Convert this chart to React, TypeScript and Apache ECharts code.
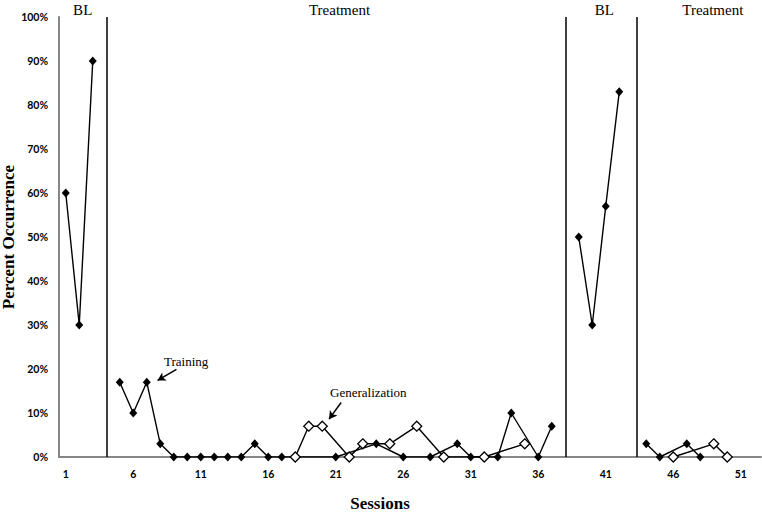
import React, { useEffect, useRef } from "react";
import * as echarts from "echarts";

// Baseline 1
const bl1Sessions = [1, 2, 3];
const bl1Values = [60, 30, 90];
// Treatment 1 - training
const tr1Sessions = [5, 6, 7, 8, 9, 10, 11, 12, 13, 14, 15, 16, 17, 21, 24, 26, 28, 30, 31, 33, 34, 36, 37];
const tr1Values = [17, 10, 17, 3, 0, 0, 0, 0, 0, 0, 3, 0, 0, 0, 3, 0, 0, 3, 0, 0, 10, 0, 7];
// Treatment 1 - generalization
const gen1Sessions = [18, 19, 20, 22, 23, 25, 27, 29, 32, 35];
const gen1Values = [0, 7, 7, 0, 3, 3, 7, 0, 0, 3];
// Baseline 2
const bl2Sessions = [39, 40, 41, 42];
const bl2Values = [50, 30, 57, 83];
// Treatment 2 - training
const tr2Sessions = [44, 45, 47, 48];
const tr2Values = [3, 0, 3, 0];
// Treatment 2 - generalization
const gen2Sessions = [46, 49, 50];
const gen2Values = [0, 3, 0];

const xTickLabels = [1, 6, 11, 16, 21, 26, 31, 36, 41, 46, 51];
const phaseChanges = [4, 38, 43.3];
const phaseLabels = ["BL", "Treatment", "BL", "Treatment"];

const zip = (xs: number[], ys: number[]) => xs.map((x, i) => [x, ys[i]]);

const serif = "'Liberation Serif', 'Times New Roman', serif";
const sans = "Lato, 'Open Sans', sans-serif";

export default function App() {
  const ref = useRef<HTMLDivElement>(null);
  useEffect(() => {
    if (!ref.current) return;
    const chart = echarts.init(ref.current, undefined, { renderer: "svg" });

    const trainingStyle = {
      type: "line" as const,
      symbol: "diamond",
      symbolSize: [8, 9],
      itemStyle: { color: "#000" },
      lineStyle: { color: "#000", width: 1.4 },
      z: 4,
    };
    const genStyle = {
      type: "line" as const,
      symbol: "diamond",
      symbolSize: 10,
      itemStyle: { color: "#fff", borderColor: "#000", borderWidth: 1.3 },
      lineStyle: { color: "#000", width: 1.4 },
      z: 5,
    };

    const labelXs = [82.7, 339.5, 604.3, 712.8];

    chart.setOption({
      animation: false,
      grid: { left: 59, right: 1, top: 17, bottom: 57, containLabel: false, outerBoundsMode: "none" },
      xAxis: {
        type: "value",
        min: 0.5,
        max: 52.5,
        name: "Sessions",
        nameLocation: "middle",
        nameGap: 38,
        nameMoveOverlap: false,
        nameTextStyle: { fontFamily: serif, fontWeight: "bold", fontSize: 17, color: "#000", padding: [0, 0, 0, -60] },
        axisLine: { show: true, lineStyle: { color: "#868686", width: 2 } },
        axisTick: { show: false },
        splitLine: { show: false },
        axisLabel: {
          customValues: xTickLabels,
          fontFamily: sans,
          fontWeight: "bold",
          fontSize: 10.5,
          color: "#000",
          margin: 11,
        },
      },
      yAxis: {
        type: "value",
        min: 0,
        max: 100,
        interval: 10,
        name: "Percent Occurrence",
        nameLocation: "middle",
        nameGap: 42,
        nameMoveOverlap: false,
        nameTextStyle: { fontFamily: serif, fontWeight: "bold", fontSize: 17, color: "#000" },
        axisLine: { show: true, lineStyle: { color: "#868686", width: 2 } },
        axisTick: { show: false },
        splitLine: { show: false },
        axisLabel: {
          formatter: "{value}%",
          fontFamily: sans,
          fontWeight: "bold",
          fontSize: 10.5,
          color: "#000",
          margin: 11,
        },
      },
      graphic: [
        ...phaseLabels.map((t, i) => ({
          type: "text",
          x: labelXs[i],
          y: 10,
          style: {
            text: t,
            font: `15px ${serif}`,
            fill: "#000",
            textAlign: "center",
            textVerticalAlign: "middle",
          },
        })),
        {
          type: "text",
          x: 164,
          y: 361,
          style: { text: "Training", font: `13px ${serif}`, fill: "#000", textAlign: "left", textVerticalAlign: "middle" },
        },
        {
          type: "text",
          x: 330,
          y: 392,
          style: { text: "Generalization", font: `13px ${serif}`, fill: "#000", textAlign: "left", textVerticalAlign: "middle" },
        },
      ],
      series: [
        {
          ...trainingStyle,
          name: "BL1",
          data: zip(bl1Sessions, bl1Values),
          markLine: {
            silent: true,
            symbol: "none",
            label: { show: false },
            lineStyle: { color: "#000", width: 1.5, type: "solid" },
            data: [
              ...phaseChanges.map((x) => ({ xAxis: x })),
              [
                { coord: [9.2, 19.9], symbol: "none" },
                { coord: [7.8, 17.4], symbol: "arrow", symbolSize: [7, 8] },
              ],
              [
                { coord: [21.4, 12.4], symbol: "none" },
                { coord: [20.5, 8.6], symbol: "arrow", symbolSize: [7, 8] },
              ],
            ],
          },
        },
        { ...trainingStyle, name: "Training1", data: zip(tr1Sessions, tr1Values) },
        { ...genStyle, name: "Generalization1", data: zip(gen1Sessions, gen1Values) },
        { ...trainingStyle, name: "BL2", data: zip(bl2Sessions, bl2Values) },
        { ...trainingStyle, name: "Training2", data: zip(tr2Sessions, tr2Values) },
        { ...genStyle, name: "Generalization2", data: zip(gen2Sessions, gen2Values) },
      ],
    });
    return () => chart.dispose();
  }, []);
  return <div ref={ref} style={{ position: "fixed", left: 0, top: 0, width: 762, height: 514, background: "#fff" }} />;
}
